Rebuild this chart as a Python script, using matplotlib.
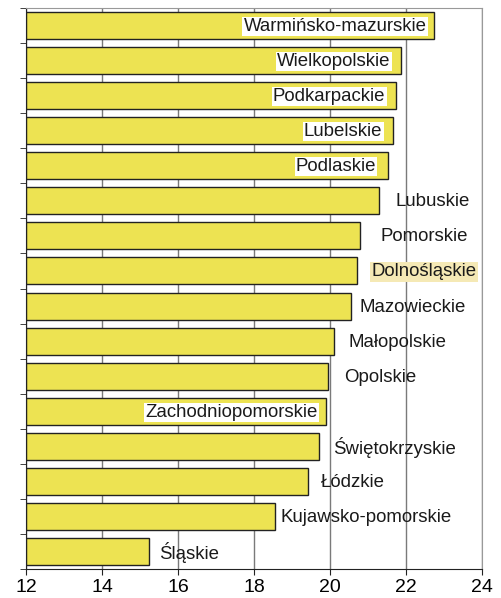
import numpy as np
import matplotlib.pyplot as plt

# Dane: województwa od góry do dołu
regions = ['Warmińsko-mazurskie', 'Wielkopolskie', 'Podkarpackie', 'Lubelskie',
           'Podlaskie', 'Lubuskie', 'Pomorskie', 'Dolnośląskie', 'Mazowieckie',
           'Małopolskie', 'Opolskie', 'Zachodniopomorskie', 'Świętokrzyskie',
           'Łódzkie', 'Kujawsko-pomorskie', 'Śląskie']
values = [22.75, 21.88, 21.75, 21.67, 21.53, 21.30, 20.79, 20.70, 20.54,
          20.11, 19.95, 19.89, 19.72, 19.43, 18.54, 15.25]
x_ticks = [12, 14, 16, 18, 20, 22, 24]

# przesunięcie etykiety od końca słupka (piksele), ujemne = w środku słupka
label_dx = [-8, -11, -11, -11, -12, 16, 20, 15, 9, 14, 16, -8, 14, 13, 6, 10]
label_bg = ['white', 'white', 'white', 'white', 'white', None, None, '#f5e9b5',
            None, None, None, 'white', None, None, None, None]

plt.rcParams['font.family'] = ['Liberation Sans', 'DejaVu Sans']

fig = plt.figure(figsize=(5.02, 5.98), dpi=100)
ax = fig.add_axes([26 / 502, 29 / 598, 456 / 502, 561 / 598])

y = np.arange(len(regions))
ax.barh(y, np.array(values) - 12, left=12, height=0.77, color='#ede352',
        edgecolor='#222222', linewidth=1.0, zorder=2)

for i, (name, v) in enumerate(zip(regions, values)):
    dx = label_dx[i]
    ha = 'right' if dx < 0 else 'left'
    bbox = None
    if label_bg[i] is not None:
        bbox = dict(boxstyle='square,pad=0.06', facecolor=label_bg[i], edgecolor='none')
    ax.annotate(name, (v, i), xytext=(dx, -1), textcoords='offset pixels',
                ha=ha, va='center', fontsize=13.4, color='#1a1a1a',
                bbox=bbox, zorder=3)

ax.set_xlim(12, 24)
ax.set_ylim(len(regions) - 0.5, -0.5)
ax.set_xticks(x_ticks)
ax.set_xticklabels([str(t) for t in x_ticks], fontsize=14)
ax.set_yticks([])
ax.set_yticks(np.arange(len(regions) + 1) - 0.5, minor=True)
ax.tick_params(axis='y', which='minor', length=4, direction='out', color='#222222')
ax.tick_params(axis='x', length=4, direction='out', color='#222222', pad=3)

ax.grid(axis='x', color='#7a7a7a', linewidth=1.0, zorder=1)
ax.set_axisbelow(True)

ax.spines['left'].set_color('#222222')
ax.spines['bottom'].set_color('#222222')
ax.spines['top'].set_color('#999999')
ax.spines['right'].set_color('#999999')

fig.savefig('out.png', dpi=100)
